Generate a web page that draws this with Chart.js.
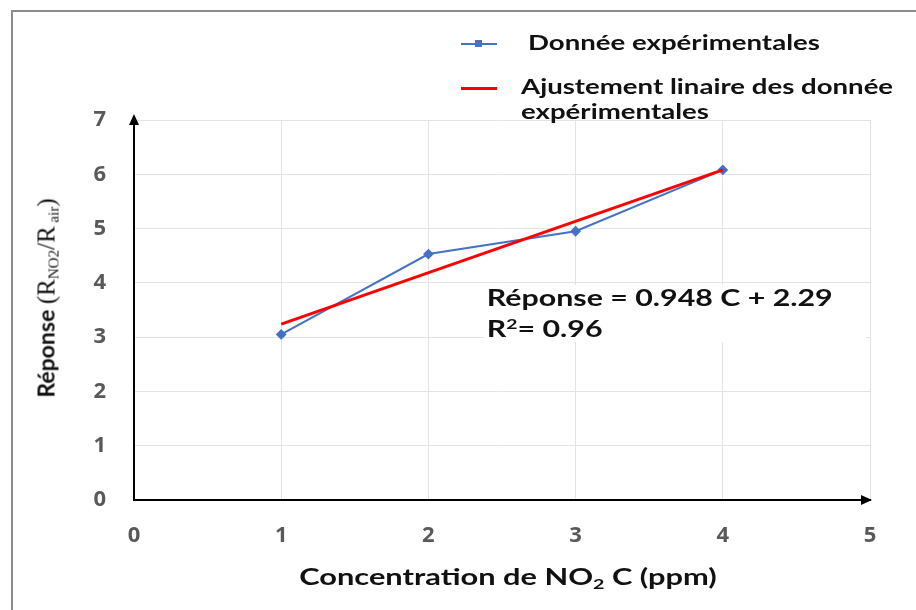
<!DOCTYPE html>
<html>
<head>
<meta charset="utf-8">
<script src="https://cdn.jsdelivr.net/npm/chart.js@4.4.0/dist/chart.umd.min.js"></script>
<style>
  html, body { margin: 0; padding: 0; background: #fff; }
  #wrap { position: relative; width: 916px; height: 610px; overflow: hidden; }
  #frame { position: absolute; left: 11px; top: 10px; width: 920px; height: 620px;
           border-left: 2px solid #8c8c8c; border-top: 2px solid #8c8c8c; }
  canvas { position: absolute; left: 0; top: 0; }
  .lbl { position: absolute; font-family: Lato, "Open Sans", sans-serif; font-weight: bold;
         color: #111; white-space: nowrap; transform-origin: 0 50%; transform: scaleX(1.38); }
  .legend-line { position: absolute; height: 0; }
  #ytitle { left: 47px; top: 298px; transform-origin: 50% 50%; transform: translate(-50%, -50%) rotate(-90deg); font-size: 23px; }
  #ytitle .serif { font-family: "Liberation Serif", "DejaVu Serif", serif; font-weight: normal; font-size: 25px; }
  #ytitle sub { font-size: 15px; vertical-align: -4px; }
  #xtitle { left: 508px; top: 577px; transform-origin: 50% 50%; transform: translate(-50%, -50%) scaleX(1.4); font-size: 22px; }
  #xtitle sub { font-size: 14px; vertical-align: -4px; }
  #eq { left: 484px; top: 285px; background: #fff; font-size: 22px; line-height: 26px; padding: 0 24px 0 2px; }
  #eq sup { font-size: 14px; vertical-align: 8px; }
</style>
</head>
<body>
<div id="wrap">
  <div id="frame"></div>
  <canvas id="chart" width="916" height="610"></canvas>

  <div class="legend-line" style="left:461px; top:43px; width:36px; border-top:2px solid #4472C4;"></div>
  <div style="position:absolute; left:475px; top:40px; width:7px; height:7px; background:#4472C4;"></div>
  <div class="lbl" style="left:528px; top:30px; font-size:20px;">Donnée expérimentales</div>

  <div class="legend-line" style="left:461px; top:87px; width:36px; border-top:3px solid #FF0000;"></div>
  <div class="lbl" style="left:521px; top:74px; font-size:20px; line-height:25px;">Ajustement linaire des donnée<br>expérimentales</div>

  <div class="lbl" id="ytitle">Réponse <span class="serif">(R<sub>NO2</sub>/R<sub> air</sub>)</span></div>
  <div class="lbl" id="xtitle">Concentration de NO<sub>2</sub> C (ppm)</div>
  <div class="lbl" id="eq">Réponse = 0.948 C + 2.29<br>R<sup>2</sup>= 0.96</div>
</div>

<script>
// concentration (ppm) and measured response
const concentrations = [1, 2, 3, 4];
const responses = [3.05, 4.53, 4.95, 6.08];

// fitted line endpoints
const fitX = [1, 4];
const fitY = [3.24, 6.08];

const xTicks = [0, 1, 2, 3, 4, 5];
const yTicks = [0, 1, 2, 3, 4, 5, 6, 7];

const toPoints = (xs, ys) => xs.map((x, i) => ({ x: x, y: ys[i] }));

// arrow heads on the two axes
const axisArrows = {
    id: 'axisArrows',
    afterDraw(chart) {
        const ctx = chart.ctx;
        const a = chart.chartArea;
        ctx.save();
        ctx.fillStyle = '#000';
        ctx.beginPath();
        ctx.moveTo(a.left, a.top - 6);
        ctx.lineTo(a.left - 5, a.top + 5);
        ctx.lineTo(a.left + 5, a.top + 5);
        ctx.closePath();
        ctx.fill();
        ctx.beginPath();
        ctx.moveTo(a.right + 2, a.bottom);
        ctx.lineTo(a.right - 9, a.bottom - 5);
        ctx.lineTo(a.right - 9, a.bottom + 5);
        ctx.closePath();
        ctx.fill();
        ctx.restore();
    }
};

const tickFont = { family: '"Open Sans", Lato, sans-serif', size: 22, weight: 'bold' };

new Chart(document.getElementById('chart').getContext('2d'), {
    type: 'scatter',
    data: {
        datasets: [{
            label: 'Donnée expérimentales',
            data: toPoints(concentrations, responses),
            showLine: true,
            borderColor: '#4472C4',
            backgroundColor: '#4472C4',
            borderWidth: 2,
            pointStyle: 'rectRot',
            pointRadius: 4,
            order: 2
        }, {
            label: 'Ajustement linaire des donnée expérimentales',
            data: toPoints(fitX, fitY),
            showLine: true,
            borderColor: '#FF0000',
            borderWidth: 3,
            pointRadius: 0,
            order: 1
        }]
    },
    options: {
        responsive: false,
        animation: false,
        layout: { padding: { left: 0, right: 46, top: 120, bottom: 0 } },
        plugins: {
            legend: { display: false },
            tooltip: { enabled: false }
        },
        scales: {
            x: {
                type: 'linear',
                min: 0,
                max: 5,
                afterFit: s => { s.height = 110; },
                afterBuildTicks: s => { s.ticks = xTicks.map(v => ({ value: v })); },
                ticks: { color: '#595959', font: tickFont, padding: 23 },
                grid: { color: '#e3e3e3', lineWidth: 1, drawTicks: false },
                border: { color: '#000', width: 2 }
            },
            y: {
                type: 'linear',
                min: 0,
                max: 7,
                afterFit: s => { s.width = 134; },
                afterBuildTicks: s => { s.ticks = yTicks.map(v => ({ value: v })); },
                ticks: { color: '#595959', font: tickFont, padding: 28 },
                grid: { color: '#e3e3e3', lineWidth: 1, drawTicks: false },
                border: { color: '#000', width: 2 }
            }
        }
    },
    plugins: [axisArrows]
});
</script>
</body>
</html>
